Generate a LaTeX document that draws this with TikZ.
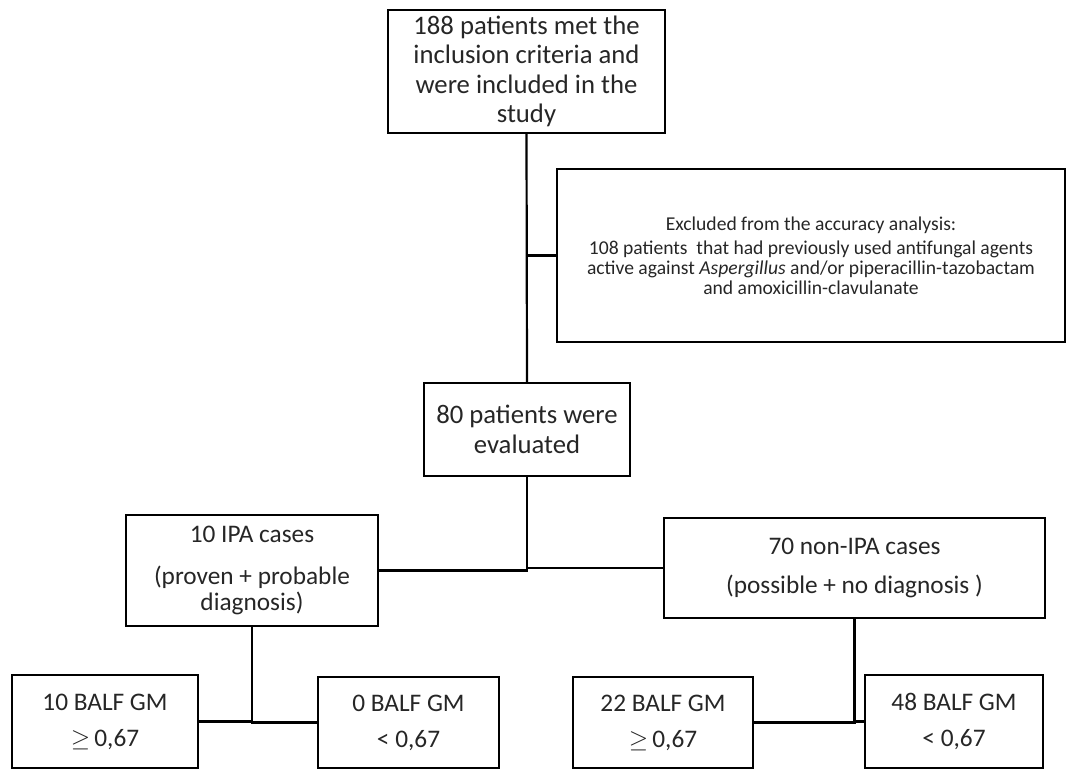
\documentclass[tikz,border=0pt]{standalone}
\usepackage{fontspec}
\setmainfont{Carlito}
\begin{document}
\begin{tikzpicture}[x=1pt,y=-1pt,
  box/.style={draw=black,line width=2.2pt,align=center,inner sep=0pt,text=black!85},
  big/.style={font=\fontsize{26.7}{29.5}\selectfont},
  mid/.style={font=\fontsize{25.3}{26}\selectfont},
  small/.style={font=\fontsize{19.6}{19.6}\selectfont},
  link/.style={draw=black,line width=2.2pt}]
\useasboundingbox (0,0) rectangle (1073,769);
\node[box,big,minimum width=277pt,minimum height=123pt] (top) at (526.5,71.5)
  {188 patients met the\\inclusion criteria and\\were included in the\\study};
\node[box,small,minimum width=508pt,minimum height=173pt] (excl) at (811,255.5)
  {Excluded from the accuracy analysis:\\[5pt]108 patients\ \ that had previously used antifungal agents\\active against \textit{Aspergillus} and/or piperacillin-tazobactam\\and amoxicillin-clavulanate};
\node[box,big,minimum width=206pt,minimum height=93pt] (eval) at (527,429.5)
  {80 patients were\\evaluated};
\node[box,mid,minimum width=252pt,minimum height=111pt] (ipa) at (252,570.5)
  {10 IPA cases\\[16pt](proven + probable\\diagnosis)};
\node[box,mid,minimum width=381pt,minimum height=100pt] (non) at (854.5,568)
  {70 non-IPA cases\\[13pt](possible + no diagnosis )};
\node[box,mid,minimum width=186pt,minimum height=93pt] (b1) at (105,721.5)
  {10 BALF GM\\[10pt]$\geq$\,0,67};
\node[box,mid,minimum width=181pt,minimum height=91pt] (b2) at (408.5,722.5)
  {0 BALF GM\\[10pt]< 0,67};
\node[box,mid,minimum width=180pt,minimum height=91pt] (b3) at (663,722.5)
  {22 BALF GM\\[10pt]$\geq$\,0,67};
\node[box,mid,minimum width=178pt,minimum height=93pt] (b4) at (954,721.5)
  {48 BALF GM\\[10pt]< 0,67};
\draw[link] (top.south) -- (eval.north);
\draw[link] (excl.west) -- (excl.west -| top.south);
\draw[link] (ipa.east) -| (eval.south);
\draw[link] (non.west) -| (eval.south);
\draw[link] (b1.east) -| (ipa.south);
\draw[link] (b2.west) -| (ipa.south);
\draw[link] (b3.east) -| (non.south);
\draw[link] (b4.west) -| (non.south);
\end{tikzpicture}
\end{document}
